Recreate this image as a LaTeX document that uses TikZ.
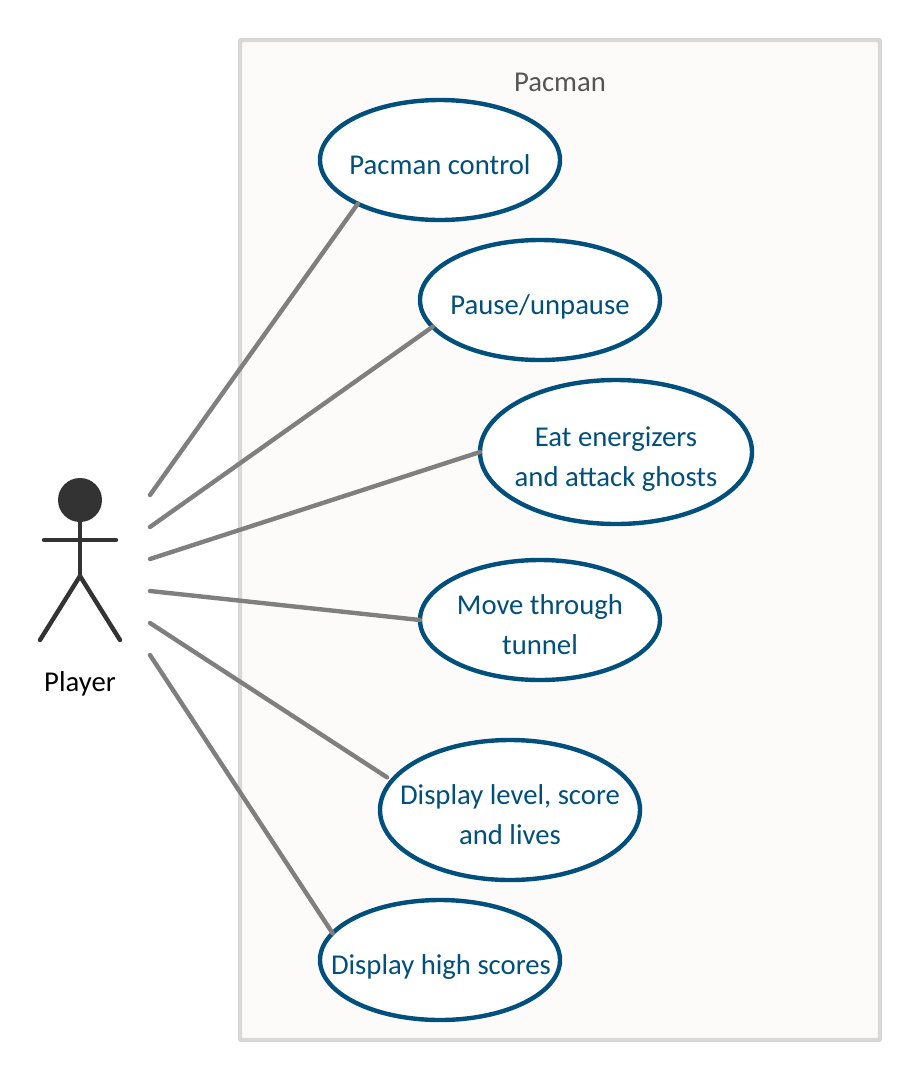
\documentclass[tikz,border=0pt]{standalone}
\usepackage{fontspec}
\setmainfont{Carlito}
\usetikzlibrary{shapes.geometric}
\definecolor{frameline}{HTML}{D8D8D8}
\definecolor{framefill}{HTML}{FCFBFA}
\definecolor{ucblue}{HTML}{004F7C}
\definecolor{linkgrey}{HTML}{7F7F7F}
\definecolor{actordark}{HTML}{333333}
\definecolor{titlegrey}{HTML}{555555}
\tikzset{
  x=1pt,y=-1pt,
  usecase/.style={ellipse,draw=ucblue,line width=4.4pt,fill=white,inner sep=0pt,outer sep=0pt},
  labeltext/.style={align=center,inner sep=0pt,text height=20pt,text depth=7pt,font=\fontsize{28.7}{40}\selectfont},
  uctext/.style={labeltext,text=ucblue},
  link/.style={draw=linkgrey,line width=4.4pt,line cap=round},
  limb/.style={draw=actordark,line width=4.4pt,line cap=round},
}
\begin{document}
\begin{tikzpicture}
\useasboundingbox (0,0) rectangle (920,1080);
\fill[white] (0,0) rectangle (920,1080);
\node[draw=frameline,fill=framefill,line width=4.4pt,rounded corners=1pt,minimum width=640pt,minimum height=1000pt,inner sep=0pt,outer sep=0pt] (frame) at (560,540) {};
\node[labeltext,text=titlegrey] (title) at (560,84.5) {Pacman};

\node[usecase,minimum width=240pt,minimum height=120pt] (u1) at (440,160) {};
\node[usecase,minimum width=240pt,minimum height=120pt] (u2) at (540,300) {};
\node[usecase,minimum width=272pt,minimum height=144pt] (u3) at (616,452) {};
\node[usecase,minimum width=240pt,minimum height=120pt] (u4) at (540,620) {};
\node[usecase,minimum width=260pt,minimum height=140pt] (u5) at (510,810) {};
\node[usecase,minimum width=240pt,minimum height=120pt] (u6) at (440,960) {};

\node[uctext] (t1) at (440,167.5) {Pacman control};
\node[uctext] (t2) at (540,307.5) {Pause/unpause};
\node[uctext] (t3) at (616,479.5) {Eat energizers\\and attack ghosts};
\node[uctext] (t4) at (540,647.5) {Move through\\tunnel};
\node[uctext] (t5) at (510,837.5) {Display level, score\\and lives};
\node[uctext] (t6) at (441,967.5) {Display high scores};

\coordinate (a1) at (150,495);
\coordinate (a2) at (150,527);
\coordinate (a3) at (150,559);
\coordinate (a4) at (150,591);
\coordinate (a5) at (150,623);
\coordinate (a6) at (150,655);
\draw[link] (a1) -- (u1.208);
\draw[link] (a2) -- (u2.194);
\draw[link] (a3) -- (u3.west);
\draw[link] (a4) -- (u4.west);
\draw[link,shorten >=6pt] (a5) -- (u5.166.3);
\draw[link] (a6) -- (u6.166.6);

\node[circle,fill=actordark,minimum size=44pt,inner sep=0pt,outer sep=0pt] (head) at (80,500) {};
\coordinate (hip) at (80,576);
\coordinate (armL) at (44,540);
\coordinate (armR) at (116,540);
\coordinate (footL) at (40,640);
\coordinate (footR) at (120,640);
\draw[limb] (head.south) -- (hip);
\draw[limb] (armL) -- (armR);
\draw[limb] (footL) -- (hip) -- (footR);
\node[labeltext,text=black] (player) at (80,684.5) {Player};
\end{tikzpicture}
\end{document}
